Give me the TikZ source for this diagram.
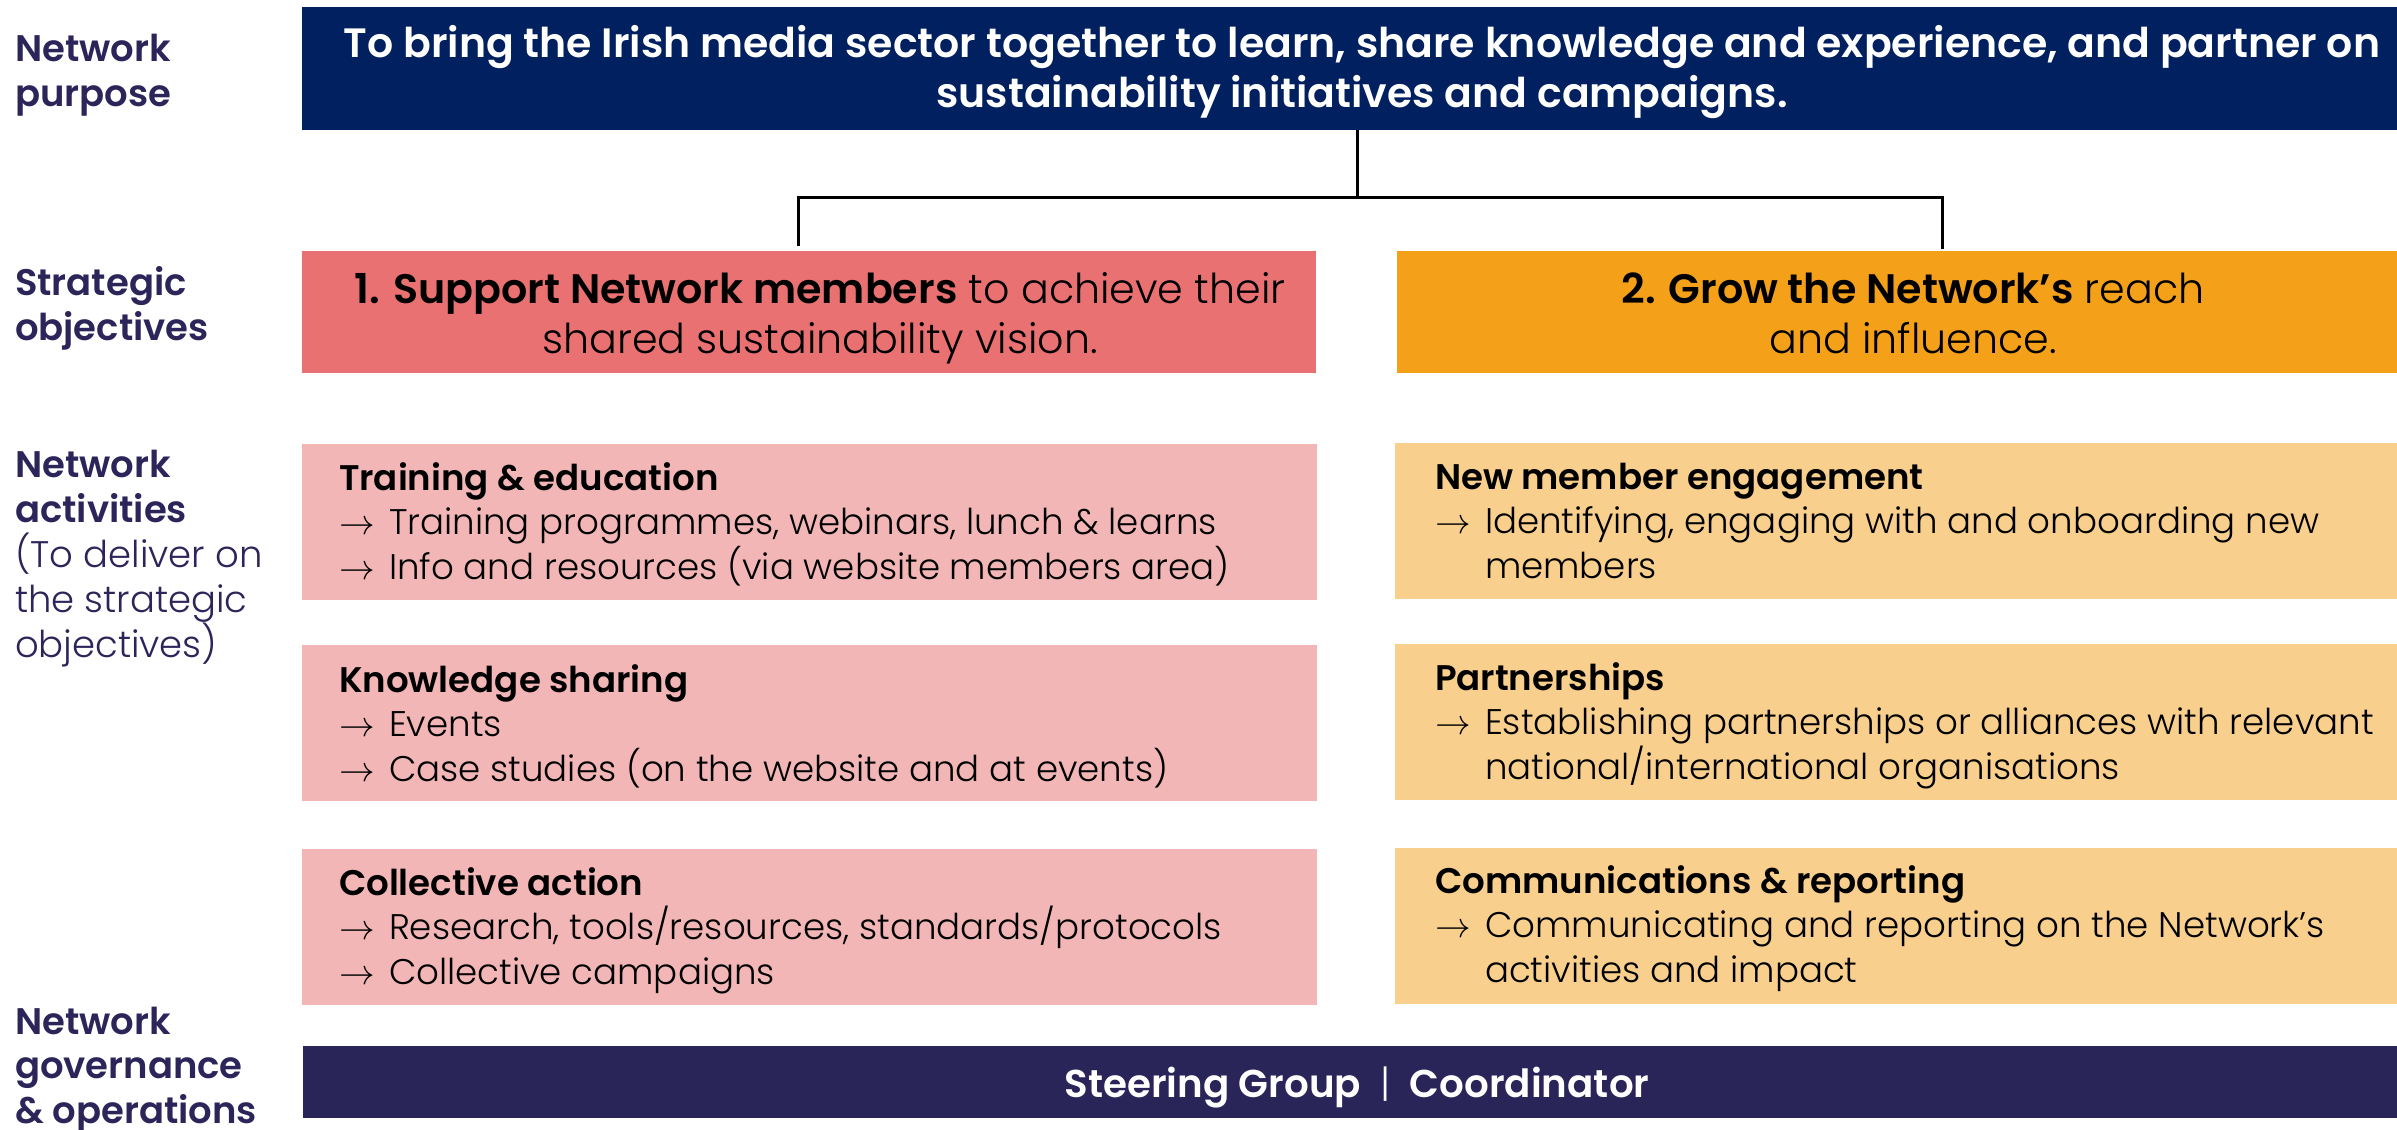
\documentclass[tikz,border=0pt]{standalone}
\usepackage{fontspec}
\setmainfont{Poppins}[UprightFont={* Light}, BoldFont={* SemiBold}]
\usepackage{fix-cm}

\definecolor{purposebg}{HTML}{002060}
\definecolor{objred}{HTML}{E97171}
\definecolor{objorange}{HTML}{F4A119}
\definecolor{actpink}{HTML}{F2B6B6}
\definecolor{actyellow}{HTML}{F8CF8C}
\definecolor{govbg}{HTML}{2A2558}
\definecolor{labelc}{HTML}{2B2559}

% stacked lines with a fixed baseline distance; the box baseline is the first line
\newcommand\leftlines[2]{\vtop{\baselineskip=#1\relax\halign{##\hfil\cr#2\crcr}}}
\newcommand\midlines[2]{\vtop{\baselineskip=#1\relax\halign{\hfil##\hfil\cr#2\crcr}}}
\newcommand\arr{\makebox[25pt][l]{$\rightarrow$}}
\newcommand\ind{\hspace*{25pt}}

\tikzset{
  panel/.style={anchor=north west, inner sep=0pt, outer sep=0pt, draw=none},
  txt/.style={inner sep=0pt, outer sep=0pt},
  rowlabel/.style={txt, anchor=base west, text=labelc, font=\fontsize{18.5}{22.5}\selectfont},
  acttext/.style={txt, anchor=base west, text=black, font=\fontsize{17.8}{22.25}\selectfont},
  objtext/.style={txt, anchor=base, text=black, font=\fontsize{20.6}{25}\selectfont},
  conn/.style={line width=1.5pt, black},
}

\begin{document}
\begin{tikzpicture}[x=0.5pt, y=-0.5pt]
\useasboundingbox (0,0) rectangle (2397,1129);

% ---- panels ----
\node[panel, fill=purposebg, minimum width=1055pt, minimum height=61.5pt] (purpose) at (302,7) {};
\node[panel, fill=objred, minimum width=507pt, minimum height=61pt] (obj1) at (302,251) {};
\node[panel, fill=objorange, minimum width=516pt, minimum height=61pt] (obj2) at (1397,251) {};

\node[panel, fill=actpink, minimum width=507.5pt, minimum height=78pt] (train) at (302,444) {};
\node[panel, fill=actpink, minimum width=507.5pt, minimum height=78pt] (know) at (302,645) {};
\node[panel, fill=actpink, minimum width=507.5pt, minimum height=78pt] (collect) at (302,849) {};

\node[panel, fill=actyellow, minimum width=515pt, minimum height=78pt] (member) at (1395,443) {};
\node[panel, fill=actyellow, minimum width=515pt, minimum height=78pt] (partner) at (1395,644) {};
\node[panel, fill=actyellow, minimum width=515pt, minimum height=78pt] (comms) at (1395,848) {};

\node[panel, fill=govbg, minimum width=1054pt, minimum height=36pt] (gov) at (303,1046) {};

% ---- connector from purpose to the two objectives ----
\coordinate (split) at (1357,197);
\coordinate (leftend) at (798,246);
\coordinate (rightend) at (1942,249);
\draw[conn] (split |- purpose.south) -- (split);
\draw[conn] (leftend) -- (leftend |- split) -- (rightend |- split) -- (rightend);

% ---- row labels ----
\node[rowlabel] (lbpurpose) at (15,62) {\leftlines{22.5pt}{\bfseries Network\cr\bfseries purpose}};
\node[rowlabel] (lbobj) at (15,295) {\leftlines{22.5pt}{\bfseries Strategic\cr\bfseries objectives}};
\node[rowlabel] (lbact) at (15,477) {\leftlines{22.5pt}{\bfseries Network\cr\bfseries activities\cr(To deliver on\cr the strategic\cr objectives)}};
\node[rowlabel] (lbgov) at (15,1034) {\leftlines{22.25pt}{\bfseries Network\cr\bfseries governance\cr\bfseries \& operations}};

% ---- purpose ----
\node[txt, anchor=base, text=white, font=\fontsize{20.5}{25}\selectfont\bfseries] (tpurpose) at (1362,58)
  {\midlines{25pt}{To bring the Irish media sector together to learn, share knowledge and experience, and partner on\cr sustainability initiatives and campaigns.}};

% ---- objectives ----
\node[objtext] (tobj1) at (820,303) {\midlines{25pt}{\textbf{1. Support Network members} to achieve their\cr shared sustainability vision.}};
\node[objtext] (tobj2) at (1913,303) {\midlines{25pt}{\textbf{2. Grow the Network’s} reach\cr and influence.}};

% ---- activities ----
\node[acttext] (ttrain) at (339,490) {\leftlines{22.25pt}{\textbf{Training \& education}\cr
  \arr Training programmes, webinars, lunch \& learns\cr
  \arr Info and resources (via website members area)}};
\node[acttext] (tknow) at (339,692) {\leftlines{22.25pt}{\textbf{Knowledge sharing}\cr
  \arr Events\cr
  \arr Case studies (on the website and at events)}};
\node[acttext] (tcollect) at (339,895) {\leftlines{22.25pt}{\textbf{Collective action}\cr
  \arr Research, tools/resources, standards/protocols\cr
  \arr Collective campaigns}};

\node[acttext] (tmember) at (1435,489) {\leftlines{22.25pt}{\textbf{New member engagement}\cr
  \arr Identifying, engaging with and onboarding new\cr
  \ind members}};
\node[acttext] (tpartner) at (1435,690) {\leftlines{22.25pt}{\textbf{Partnerships}\cr
  \arr Establishing partnerships or alliances with relevant\cr
  \ind national/international organisations}};
\node[acttext] (tcomms) at (1435,893) {\leftlines{22.25pt}{\textbf{Communications \& reporting}\cr
  \arr Communicating and reporting on the Network’s\cr
  \ind activities and impact}};

% ---- governance ----
\node[txt, anchor=base, text=white, font=\fontsize{19.4}{22}\selectfont] (tgov) at (1357,1097)
  {\textbf{Steering Group}\enspace|\enspace\textbf{Coordinator}};
\end{tikzpicture}
\end{document}
